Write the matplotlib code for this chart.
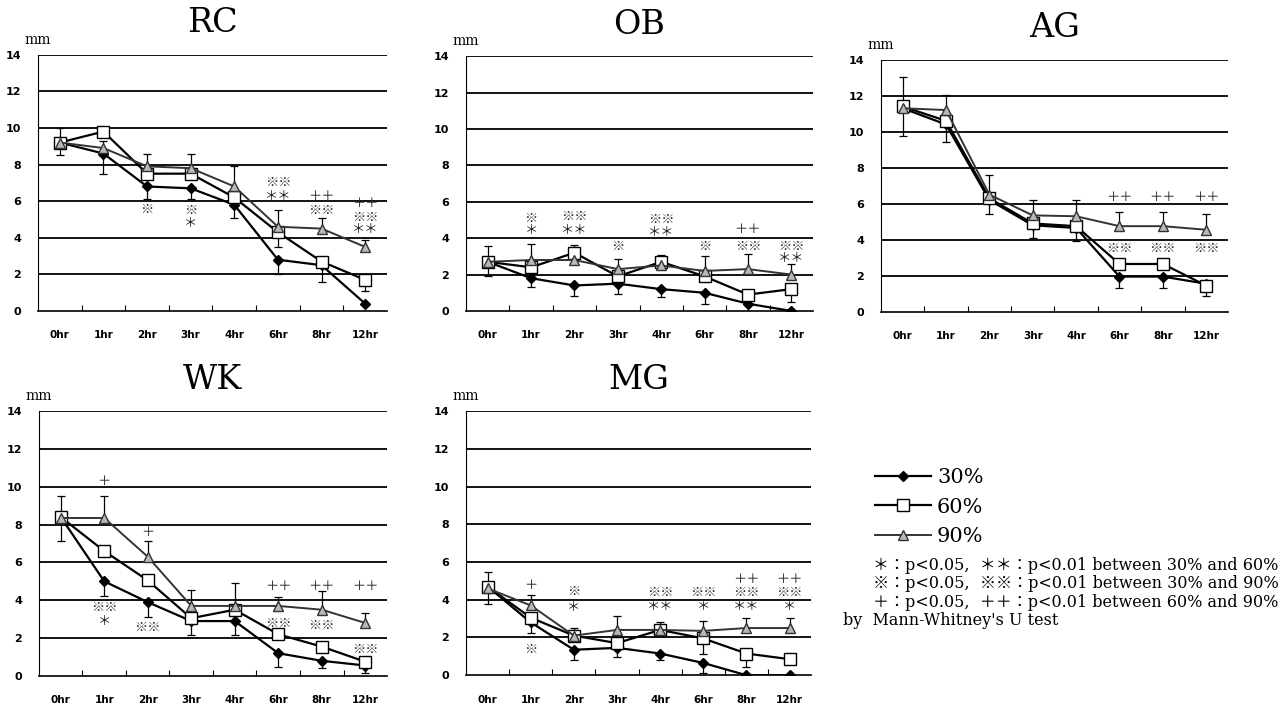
import numpy as np
import matplotlib.pyplot as plt

# -----------------------------------------------------------------------------
# data (mm), 30% / 60% / 90%
hours = ['0hr', '1hr', '2hr', '3hr', '4hr', '6hr', '8hr', '12hr']
labels = ['30%', '60%', '90%']

rc_30 = [9.2, 8.6, 6.8, 6.7, 5.8, 2.8, 2.5, 0.4]
rc_60 = [9.2, 9.8, 7.5, 7.5, 6.2, 4.3, 2.7, 1.7]
rc_90 = [9.2, 8.9, 7.9, 7.8, 6.8, 4.6, 4.5, 3.5]
rc_sd30 = [0.7, 1.1, 0.7, 0.6, 0.7, 0.8, 0.9, 0.0]
rc_sd60 = [0, 0, 0, 0, 0, 0.8, 0, 0.6]
rc_sd90 = [0.8, 0.4, 0.7, 0.8, 1.1, 0.9, 0.6, 0.4]
rc_marks = [(2, 5.55, '※'), (3, 5.5, '※'), (3, 4.8, '＊'), (5, 7.0, '※※'),
            (5, 6.25, '＊＊'), (6, 6.25, '＋＋'), (6, 5.5, '※※'), (7, 5.85, '＋＋'),
            (7, 5.1, '※※'), (7, 4.45, '＊＊')]

ob_30 = [2.7, 1.8, 1.4, 1.5, 1.2, 1.0, 0.4, 0.0]
ob_60 = [2.7, 2.4, 3.2, 1.9, 2.7, 1.9, 0.9, 1.2]
ob_90 = [2.7, 2.8, 2.8, 2.3, 2.5, 2.2, 2.3, 2.0]
ob_sd30 = [0.8, 0.5, 0.6, 0.55, 0.45, 0.6, 0.5, 0]
ob_sd60 = [0, 0, 0, 0, 0, 0, 0, 0.7]
ob_sd90 = [0.85, 0.9, 0.8, 0.55, 0.55, 0.8, 0.85, 0.6]
ob_marks = [(1, 5.1, '※'), (1, 4.4, '＊'), (2, 5.2, '※※'), (2, 4.45, '＊＊'),
            (3, 3.55, '※'), (4, 5.05, '※※'), (4, 4.3, '＊＊'), (5, 3.55, '※'),
            (6, 4.45, '＋＋'), (6, 3.55, '※※'), (7, 3.55, '※※'), (7, 2.9, '＊＊')]

ag_30 = [11.3, 10.4, 6.2, 4.8, 4.65, 1.95, 1.95, 1.55]
ag_60 = [11.4, 10.6, 6.3, 4.9, 4.75, 2.65, 2.65, 1.45]
ag_90 = [11.3, 11.2, 6.5, 5.35, 5.3, 4.75, 4.75, 4.55]
ag_sd30 = [1.55, 0.95, 0.75, 0.7, 0.75, 0.65, 0.65, 0.7]
ag_sd60 = [0, 0, 0, 0, 0, 0, 0, 0]
ag_sd90 = [1.75, 0.85, 1.1, 0.85, 0.9, 0.8, 0.8, 0.9]
ag_marks = [(5, 6.35, '＋＋'), (6, 6.35, '＋＋'), (7, 6.35, '＋＋'),
            (5, 3.5, '※※'), (6, 3.5, '※※'), (7, 3.5, '※※')]

wk_30 = [8.4, 5.0, 3.9, 2.9, 2.9, 1.2, 0.8, 0.55]
wk_60 = [8.4, 6.6, 5.05, 3.05, 3.5, 2.2, 1.55, 0.75]
wk_90 = [8.35, 8.35, 6.3, 3.7, 3.7, 3.7, 3.5, 2.8]
wk_sd30 = [1.25, 0.75, 0.8, 0.75, 0.75, 0.75, 0.4, 0.4]
wk_sd60 = [0, 0, 0, 0, 0, 0, 0, 0]
wk_sd90 = [1.15, 1.15, 0.85, 0.85, 1.2, 0.45, 1.0, 0.5]
wk_marks = [(1, 10.3, '＋'), (1, 3.6, '※※'), (1, 2.9, '＊'), (2, 7.6, '＋'),
            (2, 2.55, '※※'), (5, 4.75, '＋＋'), (5, 2.75, '※※'), (6, 4.75, '＋＋'),
            (6, 2.65, '※※'), (7, 4.75, '＋＋'), (7, 1.4, '※※')]

mg_30 = [4.7, 2.8, 1.35, 1.45, 1.15, 0.65, 0.0, 0.0]
mg_60 = [4.7, 3.05, 2.1, 1.7, 2.4, 1.95, 1.15, 0.85]
mg_90 = [4.6, 3.7, 2.1, 2.4, 2.4, 2.35, 2.5, 2.5]
mg_sd30 = [0.9, 0.55, 0.55, 0.5, 0.35, 0.55, 0, 0]
mg_sd60 = [0, 0, 0, 0, 0, 0.85, 0.7, 0]
mg_sd90 = [0.85, 0.55, 0.4, 0.75, 0.4, 0.5, 0.55, 0.55]
mg_marks = [(1, 4.75, '＋'), (1, 1.35, '※'), (2, 4.45, '※'), (2, 3.6, '＊'),
            (4, 4.4, '※※'), (4, 3.65, '＊＊'), (5, 4.4, '※※'), (5, 3.65, '＊'),
            (6, 5.05, '＋＋'), (6, 4.4, '※※'), (6, 3.65, '＊＊'), (7, 5.05, '＋＋'),
            (7, 4.4, '※※'), (7, 3.65, '＊')]

notes = ['＊：p<0.05,  ＊＊：p<0.01 between 30% and 60%',
         '※：p<0.05,  ※※：p<0.01 between 30% and 90%',
         '＋：p<0.05,  ＋＋：p<0.01 between 60% and 90%',
         'by  Mann-Whitney\'s U test']

# -----------------------------------------------------------------------------
MARK_FONT = ['Noto Sans CJK JP', 'DejaVu Sans']
NOTE_FONT = ['DejaVu Serif', 'Noto Sans CJK JP']

fig = plt.figure(figsize=(12.87, 7.10), dpi=100)

# panel boxes in figure fractions [left, bottom, width, height]
panels = [
    ('RC', [0.0295, 0.562, 0.2712, 0.361], rc_30, rc_60, rc_90, rc_sd30, rc_sd60, rc_sd90, rc_marks),
    ('OB', [0.3621, 0.562, 0.2696, 0.359], ob_30, ob_60, ob_90, ob_sd30, ob_sd60, ob_sd90, ob_marks),
    ('AG', [0.6845, 0.561, 0.2696, 0.355], ag_30, ag_60, ag_90, ag_sd30, ag_sd60, ag_sd90, ag_marks),
    ('WK', [0.0303, 0.048, 0.2704, 0.373], wk_30, wk_60, wk_90, wk_sd30, wk_sd60, wk_sd90, wk_marks),
    ('MG', [0.3621, 0.049, 0.2681, 0.372], mg_30, mg_60, mg_90, mg_sd30, mg_sd60, mg_sd90, mg_marks),
]

styles = [
    dict(marker='D', markersize=5, markerfacecolor='black', color='black', lw=1.6),
    dict(marker='s', markersize=8, markerfacecolor='white', color='black', lw=1.6),
    dict(marker='^', markersize=7, markerfacecolor='#b8b8b8', color='#333333', lw=1.4),
]

x = np.arange(len(hours))
handles = []

for name, box, s30, s60, s90, e30, e60, e90, marks in panels:
    a = fig.add_axes(box)
    # error bars: 30% and 60% go down, 90% goes up
    for y, e, sign in [(s30, e30, -1), (s60, e60, -1), (s90, e90, 1)]:
        y = np.array(y, dtype=float)
        e = np.array(e, dtype=float)
        keep = e > 0
        end = y + sign * e
        a.vlines(x[keep], y[keep], end[keep], color='black', lw=0.9, zorder=2)
        a.plot(x[keep], end[keep], ls='none', marker='_', markersize=6,
               markeredgewidth=0.9, color='black', zorder=2)
    hs = []
    for y, st, lab in zip([s30, s60, s90], styles, labels):
        h, = a.plot(x, y, label=lab, zorder=3, **st)
        hs.append(h)
    handles = hs

    for i, yv, t in marks:
        a.text(i, yv, t, ha='center', va='center', fontsize=9.5, color='#222222',
               family=MARK_FONT)

    a.set_xlim(-0.5, 7.5)
    a.set_ylim(0, 14)
    a.set_yticks(np.arange(0, 15, 2))
    a.set_yticklabels([str(v) for v in range(0, 15, 2)], fontsize=8, fontweight='bold')
    a.tick_params(axis='y', length=0, pad=12)
    a.set_xticks(np.arange(0.5, 7, 1))
    a.set_xticklabels([])
    a.tick_params(axis='x', which='major', direction='in', length=4, width=0.8)
    a.set_xticks(x, minor=True)
    a.set_xticklabels(hours, minor=True, fontsize=7.5, fontweight='bold')
    a.tick_params(axis='x', which='minor', length=0, pad=14)
    for yg in range(2, 15, 2):
        a.axhline(yg, color='black', lw=1.3, zorder=1)
    a.spines['top'].set_visible(False)
    a.spines['right'].set_visible(False)
    a.spines['left'].set_linewidth(0.8)
    a.spines['bottom'].set_linewidth(1.2)

    a.set_title(name, fontsize=24, family='DejaVu Serif', pad=16)
    a.text(-0.04, 1.03, 'mm', transform=a.transAxes, fontsize=10,
           family='DejaVu Serif', ha='left', va='bottom')

# legend
fig.legend(handles, labels, loc='upper left', bbox_to_anchor=(0.665, 0.367),
           frameon=False, handlelength=2.7, handletextpad=0.3, labelspacing=0.5,
           prop={'family': 'DejaVu Serif', 'size': 15})

for k, line in enumerate(notes):
    fig.text(0.678 if k < 3 else 0.655, 0.203 - k * 0.0255, line, fontsize=11.5,
             family=NOTE_FONT, ha='left', va='center')

plt.savefig('out.png', dpi=100)
